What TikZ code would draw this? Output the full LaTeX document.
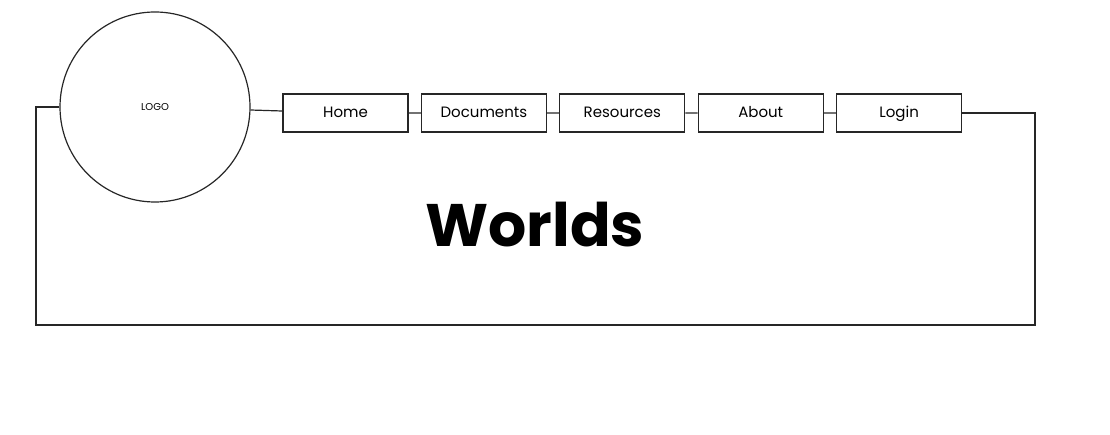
\documentclass[tikz,border=0pt]{standalone}
\usepackage{fontspec}
\setmainfont{Poppins}
\usetikzlibrary{positioning}

\begin{document}
\begin{tikzpicture}[x=1pt,y=-1pt,node distance=138.4pt,line width=1.2pt,
                    draw=black!85]
  \tikzstyle{menu}=[draw,minimum width=125pt,minimum height=38pt,inner sep=0pt,
                    text height=1.6ex,text depth=0.1ex,
                    font=\fontsize{15}{18}\selectfont]
  \useasboundingbox (0,0) rectangle (1110,435);

  \node[circle,draw,minimum size=190pt,inner sep=0pt,
        font=\fontsize{10}{12}\selectfont] (L) at (155,107) {LOGO};
  \node[menu] (A) at (345.5,113) {Home};
  \node[menu] (B) [right of=A] {Documents};
  \node[menu] (C) [right of=B] {Resources};
  \node[menu] (D) [right of=C] {About};
  \node[menu] (E) [right of=D] {Login};

  \node[font=\fontsize{60}{70}\selectfont\bfseries] (W) at (535,225) {Worlds};

  % frame corners
  \coordinate (tl) at (36,107);
  \coordinate (bl) at (36,325);
  \coordinate (br) at (1035,325);
  \coordinate (tr) at (1035,113);

  \draw (L.west) -- (tl) -- (bl) -- (br) -- (tr) -- (E.east);
  \draw (L) -- (A)
        (A) -- (B)
        (B) -- (C)
        (C) -- (D)
        (D) -- (E);
\end{tikzpicture}
\end{document}
